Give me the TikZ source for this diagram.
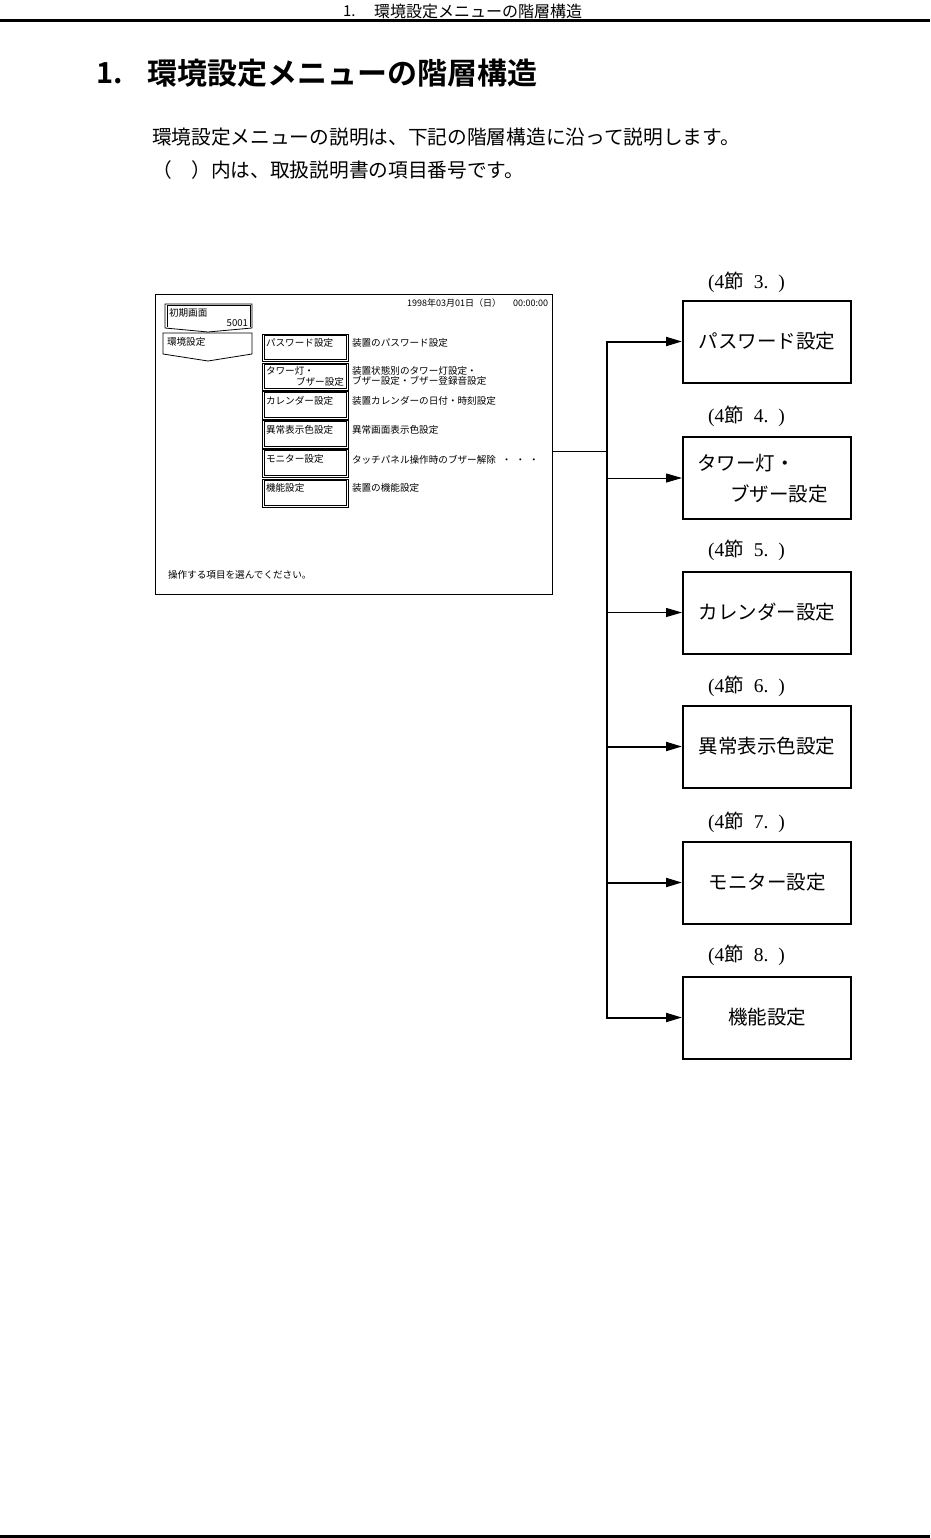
\documentclass[tikz,border=0pt]{standalone}
\usepackage{fontspec}
\usetikzlibrary{arrows.meta}
\setmainfont{Liberation Serif}
\newfontfamily\cjk{Noto Sans CJK JP}[BoldFont={Noto Sans CJK JP Bold}]
\newcommand{\jfs}[1]{\fontsize{#1}{#1}\selectfont}
\newcommand{\sectlbl}[1]{(4{\cjk 節}\hspace{10pt}#1.\hspace{10pt})}
\begin{document}
\begin{tikzpicture}[x=1pt,y=-1pt,
  txt/.style={inner sep=0pt, outer sep=0pt},
  small/.style={txt, font=\cjk\jfs{9.6}},
  rbox/.style={draw, line width=2pt, minimum width=168pt, minimum height=82pt, inner sep=0pt},
  rtxt/.style={txt, font=\cjk\jfs{19.5}},
  lbl/.style={txt, anchor=west, font=\jfs{19.5}},
  btnline/.style={draw, line width=0.8pt},
  arrowthin/.style={line width=1pt, -{Triangle[length=16pt,width=9pt]}},
  arrowthick/.style={line width=2pt, -{Triangle[length=16pt,width=9pt]}},
]
\useasboundingbox (0,0) rectangle (930,1538);
\fill[white] (0,0) rectangle (930,1538);

% header
\node[txt, anchor=west, font=\cjk\jfs{15}] (hdnum) at (343,11) {1.};
\node[txt, anchor=west, font=\cjk\jfs{16}] (hd) at (374,11) {環境設定メニューの階層構造};
\draw[line width=2.5pt] (0,20.5) -- (930,20.5);

% title
\node[txt, anchor=west, font=\cjk\bfseries\jfs{29}] (tnum) at (96,73) {1.};
\node[txt, anchor=west, font=\cjk\bfseries\jfs{30}] (title) at (147,73) {環境設定メニューの階層構造};

% body
\node[txt, anchor=west, font=\cjk\jfs{19.7}] (body1) at (152,137) {環境設定メニューの説明は、下記の階層構造に沿って説明します。};
\node[txt, anchor=west, font=\cjk\jfs{19.7}] (body2) at (152,170) {（　）内は、取扱説明書の項目番号です。};

% screen
\node[draw, line width=1pt, minimum width=397pt, minimum height=300pt, anchor=north west, inner sep=0pt] (scr) at (155,294) {};
\node[small, anchor=east, font=\cjk\jfs{9}] (date) at (548,303) {1998年03月01日（日）\hspace{12pt}00:00:00};

\draw[btnline] (165,304) -- (252,304) -- (252,328) -- (208,332) -- (165,328) -- cycle;
\draw[btnline] (167,305.5) -- (250,305.5) -- (250,327);
\draw[btnline] (167,305.5) -- (167,327);
\node[small, anchor=west] (shoki) at (169,313) {初期画面};
\node[small, anchor=east] (num) at (248,323) {5001};
\draw[line width=0.8pt] (163,333) -- (252,333) -- (252,354) -- (208,361) -- (163,354) -- cycle;
\node[small, anchor=west] (kankyo) at (167,342) {環境設定};

\foreach \tp/\bt in {334/361, 363/390, 391/419, 420/448, 449/477, 479/507}{
  \draw[btnline] (262,\tp) rectangle (348,\bt);
  \draw[btnline] (264,\tp+1.6) rectangle (346,\bt-1.6);
}
\node[small, anchor=west] (m1) at (266,343) {パスワード設定};
\node[small, anchor=west] (m2a) at (266,371) {タワー灯・};
\node[small, anchor=east] (m2b) at (344,382) {ブザー設定};
\node[small, anchor=west] (m3) at (266,401) {カレンダー設定};
\node[small, anchor=west] (m4) at (266,430) {異常表示色設定};
\node[small, anchor=west] (m5) at (266,459) {モニター設定};
\node[small, anchor=west] (m6) at (266,488) {機能設定};

\node[small, anchor=west] (d1) at (352,343) {装置のパスワード設定};
\node[small, anchor=west] (d2a) at (352,371) {装置状態別のタワー灯設定・};
\node[small, anchor=west] (d2b) at (352,381) {ブザー設定・ブザー登録音設定};
\node[small, anchor=west] (d3) at (352,401) {装置カレンダーの日付・時刻設定};
\node[small, anchor=west] (d4) at (352,430) {異常画面表示色設定};
\node[small, anchor=west] (d5) at (352,460) {タッチパネル操作時のブザー解除\hspace{6pt}・\hspace{4pt}・\hspace{4pt}・};
\node[small, anchor=west] (d6) at (352,488) {装置の機能設定};

\node[small, anchor=west] (prompt) at (168,575) {操作する項目を選んでください。};

% right boxes
\node[rbox] (b1) at (767,341.5) {};
\node[rbox] (b2) at (767,478) {};
\node[rbox] (b3) at (767,612.5) {};
\node[rbox] (b4) at (767,746.5) {};
\node[rbox] (b5) at (767,882.5) {};
\node[rbox] (b6) at (767,1017.5) {};

\node[rtxt] (t1) at (b1) {パスワード設定};
\node[rtxt, anchor=west] (t2a) at (697,463) {タワー灯・};
\node[rtxt, anchor=west] (t2b) at (730,494) {ブザー設定};
\node[rtxt] (t3) at (b3) {カレンダー設定};
\node[rtxt] (t4) at (b4) {異常表示色設定};
\node[rtxt] (t5) at (b5) {モニター設定};
\node[rtxt] (t6) at (b6) {機能設定};

\node[lbl] (l1) at (708,282) {\sectlbl{3}};
\node[lbl] (l2) at (708,416) {\sectlbl{4}};
\node[lbl] (l3) at (708,550) {\sectlbl{5}};
\node[lbl] (l4) at (708,686) {\sectlbl{6}};
\node[lbl] (l5) at (708,822) {\sectlbl{7}};
\node[lbl] (l6) at (708,955) {\sectlbl{8}};

% connectors
\coordinate (jt) at (607,341.5);
\coordinate (jb) at (607,1017.5);
\coordinate (sp) at (552,451);
\draw[line width=2pt] (jt) -- (jb);
\draw[line width=1pt] (sp) -- (sp -| jt);
\draw[arrowthick] ([xshift=-1pt]jt) -- (b1.west);
\draw[arrowthin] (b2.west -| jt) -- (b2.west);
\draw[arrowthin] (b3.west -| jt) -- (b3.west);
\draw[arrowthick] (b4.west -| jt) -- (b4.west);
\draw[arrowthick] (b5.west -| jt) -- (b5.west);
\draw[arrowthick] ([xshift=-1pt]jb) -- (b6.west);

% footer line
\draw[line width=3pt] (0,1536) -- (930,1536);
\end{tikzpicture}
\end{document}
